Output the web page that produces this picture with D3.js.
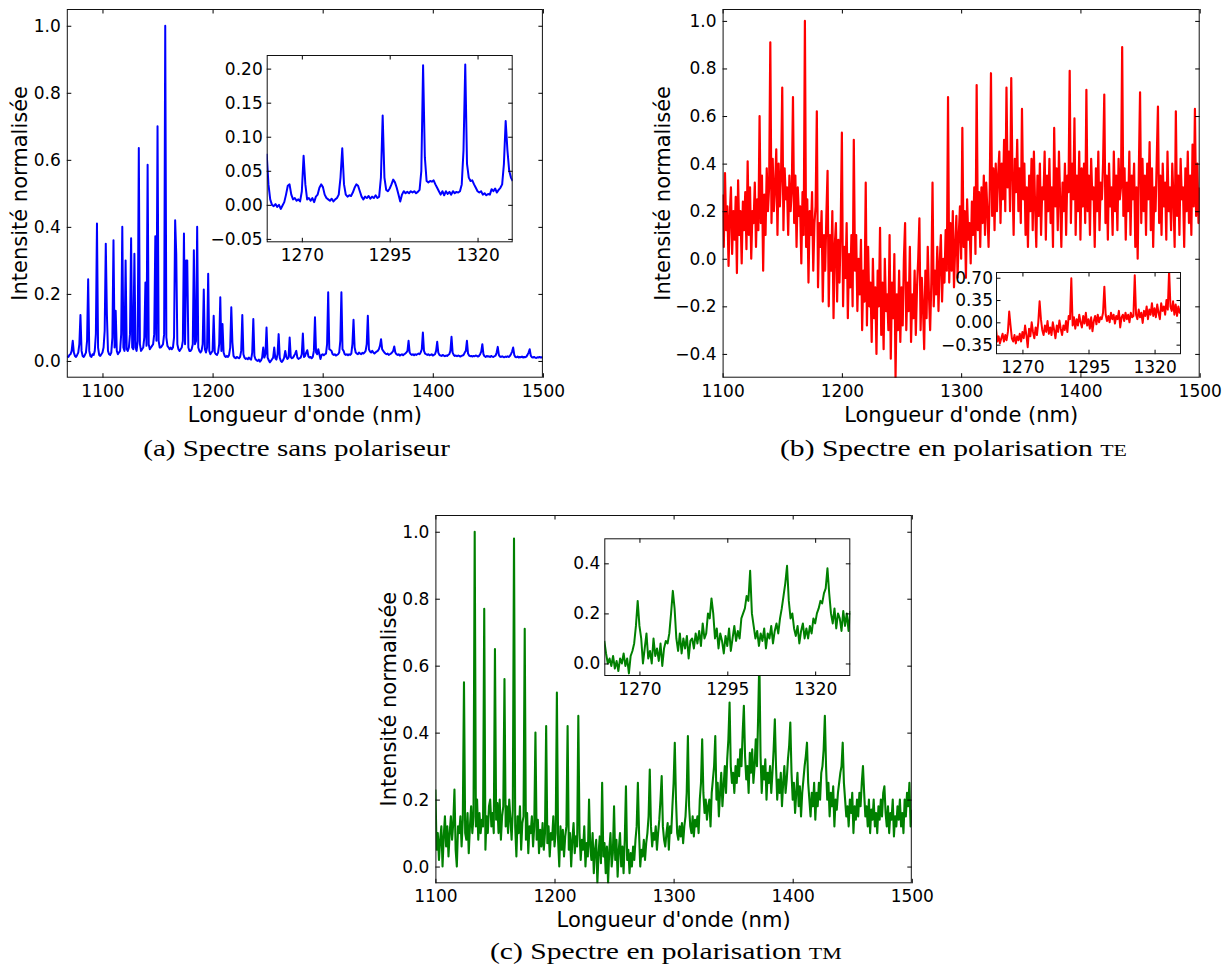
<!DOCTYPE html>
<html><head><meta charset="utf-8">
<script src="https://cdn.jsdelivr.net/npm/d3@7"></script>
<style>body{margin:0;background:#fff}svg{display:block}</style>
</head><body>
<svg id="chart" width="1229" height="970"></svg>
<script>
// ---------------- DATA ----------------
// (a) unpolarised spectrum, sampled every 1 nm from 1068 nm
const aWaveStart = 1068, aWaveStep = 1;
const aIntensity = [
0.015,0.012,0.018,0.02,0.03,0.06,0.025,0.015,0.012,0.018,
0.025,0.05,0.137,0.03,0.015,0.012,0.018,0.025,0.06,0.244,
0.03,0.015,0.012,0.02,0.018,0.03,0.08,0.41,0.04,0.018,
0.015,0.02,0.025,0.04,0.09,0.35,0.14,0.03,0.02,0.018,
0.025,0.07,0.36,0.04,0.15,0.03,0.02,0.025,0.03,0.08,
0.40,0.04,0.03,0.30,0.035,0.03,0.04,0.08,0.366,0.04,
0.035,0.32,0.04,0.03,0.06,0.635,0.05,0.03,0.035,0.04,
0.07,0.234,0.045,0.585,0.05,0.035,0.04,0.045,0.05,0.08,
0.372,0.06,0.70,0.06,0.04,0.04,0.045,0.05,0.08,1.0,
0.07,0.045,0.04,0.035,0.04,0.035,0.04,0.07,0.42,0.32,
0.05,0.035,0.03,0.035,0.04,0.06,0.38,0.05,0.30,0.30,
0.04,0.03,0.03,0.035,0.05,0.33,0.05,0.06,0.40,0.04,
0.03,0.025,0.03,0.05,0.213,0.035,0.025,0.04,0.26,0.03,
0.02,0.025,0.03,0.135,0.025,0.02,0.018,0.025,0.05,0.19,
0.03,0.11,0.025,0.015,0.012,0.015,0.012,0.018,0.04,0.16,
0.055,0.015,0.01,0.008,0.012,0.01,0.008,0.012,0.03,0.137,
0.02,0.01,0.006,0.008,0.005,0.01,0.006,0.004,0.025,0.125,
0.015,0.005,0.002,0.0,0.004,-0.002,0.002,0.01,0.04,0.01,
0.02,0.10,0.01,0.002,-0.004,0.0,0.005,0.01,0.04,0.008,
0.004,0.02,0.08,0.01,0.0,-0.003,0.002,0.01,0.03,0.012,
0.006,0.01,0.07,0.012,0.008,0.01,0.015,0.022,0.03,0.01,
0.006,0.008,0.01,0.02,0.082,0.012,0.015,0.025,0.032,0.014,
0.01,0.012,0.008,0.012,0.03,0.13,0.025,0.02,0.035,0.02,
0.006,0.018,0.02,0.017,0.02,0.022,0.05,0.205,0.035,0.033,
0.03,0.02,0.018,0.02,0.016,0.018,0.02,0.025,0.06,0.205,
0.035,0.03,0.02,0.018,0.02,0.017,0.02,0.018,0.022,0.05,
0.123,0.04,0.025,0.022,0.02,0.025,0.022,0.02,0.024,0.022,
0.025,0.03,0.05,0.135,0.035,0.028,0.025,0.03,0.025,0.022,
0.025,0.028,0.03,0.035,0.045,0.065,0.035,0.03,0.025,0.022,
0.02,0.022,0.018,0.02,0.022,0.025,0.03,0.043,0.025,0.02,
0.018,0.02,0.016,0.018,0.02,0.017,0.02,0.022,0.025,0.03,
0.06,0.025,0.02,0.018,0.02,0.017,0.02,0.018,0.02,0.022,
0.02,0.025,0.035,0.085,0.03,0.022,0.02,0.018,0.02,0.017,
0.018,0.02,0.016,0.018,0.02,0.03,0.057,0.025,0.018,0.016,
0.015,0.018,0.016,0.014,0.016,0.015,0.018,0.02,0.03,0.072,
0.025,0.018,0.015,0.016,0.014,0.016,0.015,0.013,0.015,0.016,
0.018,0.025,0.03,0.06,0.022,0.016,0.014,0.015,0.013,0.015,
0.014,0.016,0.015,0.013,0.015,0.02,0.028,0.05,0.02,0.014,
0.012,0.015,0.013,0.014,0.012,0.015,0.013,0.012,0.014,0.016,
0.025,0.042,0.018,0.013,0.012,0.014,0.012,0.011,0.013,0.012,
0.014,0.012,0.015,0.02,0.028,0.04,0.018,0.012,0.011,0.013,
0.01,0.012,0.011,0.013,0.01,0.012,0.011,0.013,0.018,0.025,
0.035,0.016,0.011,0.01,0.012,0.01,0.009,0.011,0.01,0.012,
0.01,0.011,0.01
];
// (a) inset, 1260-1330 nm every 0.5 nm
const aInsetWaveStart = 1260, aInsetWaveStep = 0.5;
const aInsetIntensity = [
0.075,0.03,0.008,0.0,-0.002,0.001,-0.003,0.0,-0.006,-0.001,
0.004,0.015,0.028,0.03,0.015,0.008,0.01,0.006,0.008,0.005,
0.02,0.072,0.03,0.008,0.01,0.006,0.01,0.004,0.012,0.015,
0.025,0.03,0.026,0.015,0.01,0.008,0.006,0.009,0.005,0.008,
0.01,0.015,0.04,0.083,0.03,0.015,0.012,0.014,0.013,0.018,
0.025,0.03,0.028,0.02,0.012,0.008,0.012,0.01,0.013,0.009,
0.012,0.01,0.014,0.01,0.012,0.04,0.131,0.04,0.022,0.02,
0.024,0.03,0.037,0.033,0.025,0.015,0.005,0.015,0.02,0.017,
0.019,0.017,0.02,0.018,0.02,0.017,0.019,0.022,0.05,0.205,
0.07,0.035,0.033,0.035,0.034,0.036,0.03,0.025,0.02,0.015,
0.02,0.014,0.02,0.016,0.019,0.015,0.02,0.017,0.019,0.018,
0.02,0.03,0.08,0.206,0.06,0.04,0.035,0.036,0.03,0.025,
0.02,0.018,0.02,0.015,0.017,0.014,0.016,0.015,0.023,0.02,
0.024,0.018,0.022,0.025,0.03,0.06,0.123,0.08,0.05,0.04,
0.035
];
// (b) TE polarisation, every 1 nm from 1100 nm
const teWaveStart = 1100, teWaveStep = 1;
const teIntensity = [
0.27,0.05,0.36,0.12,0.22,-0.03,0.18,0.30,0.02,0.2,
0.08,0.26,-0.06,0.33,0.1,0.2,-0.02,0.24,0.12,0.28,
0.04,0.41,0.1,0.3,0.0,0.2,0.15,0.32,0.05,0.25,
0.12,0.60,0.15,0.35,-0.05,0.27,0.1,0.38,0.2,0.3,
0.91,0.15,0.42,0.2,0.3,0.46,0.1,0.4,0.22,0.35,
0.72,0.12,0.38,0.25,0.3,0.1,0.35,0.2,0.28,0.68,
0.15,0.35,0.05,0.3,0.18,0.22,-0.02,0.28,0.1,1.0,
0.05,0.25,-0.1,0.2,0.1,0.28,-0.05,0.15,0.22,0.62,
-0.12,0.15,0.05,0.2,-0.18,0.1,-0.05,0.18,0.37,-0.2,
0.1,-0.05,0.2,-0.25,0.05,0.15,-0.18,0.08,-0.1,0.12,
0.53,-0.2,0.05,-0.08,0.15,-0.25,0.02,-0.12,0.1,-0.2,
0.50,-0.05,0.1,-0.22,0.0,-0.15,0.08,-0.3,-0.05,-0.18,
0.32,-0.28,0.05,-0.2,-0.1,-0.35,0.0,-0.25,-0.12,-0.4,
-0.05,-0.2,0.13,-0.32,-0.1,-0.38,0.0,-0.22,-0.15,-0.3,
0.10,-0.42,-0.1,-0.25,0.02,-0.5,-0.15,-0.3,-0.05,-0.35,
-0.12,-0.28,0.0,0.15,-0.3,-0.1,-0.22,0.05,-0.35,-0.15,
-0.25,-0.05,-0.32,-0.12,0.0,0.17,-0.3,-0.08,-0.2,-0.38,
-0.05,-0.25,0.05,-0.15,-0.3,-0.1,0.32,-0.2,-0.05,-0.15,
0.05,-0.22,-0.02,0.1,-0.18,0.0,-0.1,0.12,-0.05,0.68,
-0.1,0.15,-0.05,0.2,-0.12,0.05,0.18,-0.08,0.1,0.22,
0.0,0.55,0.05,0.2,-0.08,0.25,0.08,0.15,-0.02,0.24,
0.1,0.3,0.02,0.73,0.12,0.28,0.05,0.3,0.15,0.35,
0.1,0.32,0.2,0.05,0.3,0.78,0.18,0.38,0.12,0.4,
0.2,0.35,0.45,0.15,0.4,0.25,0.5,0.2,0.72,0.3,
0.45,0.2,0.76,0.35,0.1,0.42,0.28,0.5,0.2,0.38,
0.15,0.63,0.25,0.4,0.1,0.3,0.05,0.35,0.2,0.42,
0.12,0.45,0.22,0.05,0.35,0.18,0.4,0.1,0.3,0.25,
0.45,0.08,0.35,0.2,0.42,0.15,0.3,0.05,0.55,0.22,
0.38,0.12,0.45,0.25,0.05,0.32,0.2,0.4,0.1,0.35,
0.28,0.79,0.15,0.4,0.25,0.59,0.1,0.35,0.2,0.45,
0.08,0.38,0.22,0.4,0.15,0.71,0.2,0.35,0.1,0.42,
0.25,0.3,0.05,0.38,0.2,0.45,0.12,0.32,0.25,0.4,
0.69,0.15,0.35,0.08,0.4,0.22,0.3,0.1,0.45,0.2,
0.35,0.12,0.42,0.25,0.3,0.89,0.18,0.38,0.08,0.32,
0.2,0.45,0.1,0.35,0.25,0.4,0.05,0.3,0.0,0.38,
0.70,0.15,0.42,0.2,0.35,0.1,0.4,0.25,0.49,0.12,
0.38,0.05,0.3,0.2,0.42,0.64,0.15,0.35,0.1,0.4,
0.22,0.32,0.08,0.45,0.2,0.3,0.12,0.4,0.25,0.05,
0.62,0.18,0.35,0.1,0.42,0.25,0.3,0.05,0.38,0.2,
0.45,0.15,0.35,0.1,0.48,0.22,0.63,0.18,0.4,0.15,
0.3
];
// (b) inset, 1260-1330 nm every 0.5 nm
const teInsetWaveStart = 1260, teInsetWaveStep = 0.5;
const teInsetIntensity = [
-0.1,-0.3,-0.22,-0.33,-0.25,-0.18,-0.3,-0.2,-0.28,-0.15,
0.17,-0.05,-0.25,-0.3,-0.2,-0.33,-0.22,-0.28,-0.18,-0.3,
-0.15,-0.25,-0.05,-0.2,-0.39,-0.1,-0.22,0.0,-0.15,-0.25,
-0.08,-0.2,0.0,0.33,0.05,-0.12,-0.2,-0.05,-0.15,0.02,
-0.18,-0.08,-0.2,0.0,-0.12,-0.25,-0.05,-0.15,0.03,-0.1,
-0.2,-0.05,-0.12,0.02,-0.15,0.1,0.05,0.69,-0.05,0.08,
-0.1,0.05,-0.05,0.12,0.0,-0.08,0.1,-0.02,0.15,-0.05,
0.05,-0.1,0.08,-0.14,0.02,0.1,-0.03,0.12,0.0,0.08,
0.05,0.15,0.56,0.12,0.02,0.1,0.0,0.15,0.05,0.12,
-0.02,0.1,0.05,0.18,-0.08,0.08,0.12,0.02,0.15,0.05,
0.12,0.0,0.15,0.08,0.1,0.74,0.12,0.05,0.2,0.08,
0.15,-0.01,0.18,0.1,0.25,0.05,0.2,0.12,0.3,0.1,
0.22,0.08,0.28,0.15,0.05,0.3,0.18,0.25,0.12,0.35,
0.2,0.82,0.25,0.18,0.33,0.12,0.28,0.1,0.25,0.15,
0.22
];
// (c) TM polarisation, every 1 nm from 1100 nm
const tmWaveStart = 1100, tmWaveStep = 1;
const tmIntensity = [
0.23,0.05,0.1,0.02,0.08,0.12,0.0,0.09,0.15,0.06,
0.12,0.03,0.1,0.15,0.08,0.13,0.23,0.05,0.0,0.12,
0.1,0.15,0.06,0.14,0.55,0.1,0.08,0.16,0.04,0.12,
0.18,0.1,0.15,1.0,0.12,0.2,0.08,0.16,0.1,0.14,
0.12,0.77,0.05,0.15,0.1,0.18,0.2,0.12,0.16,0.1,
0.65,0.14,0.19,0.1,0.2,0.08,0.15,0.18,0.56,0.12,
0.18,0.1,0.2,0.14,0.08,0.17,0.98,0.12,0.03,0.15,
0.1,0.18,0.05,0.13,0.15,0.71,0.08,0.16,0.04,0.12,
0.1,0.15,0.06,0.12,0.40,0.08,0.14,0.04,0.11,0.06,
0.13,0.05,0.1,0.42,0.07,0.12,0.03,0.1,0.08,0.15,
0.06,0.1,0.52,0.08,0.0,0.12,0.05,0.11,0.03,0.09,
0.12,0.42,0.05,0.1,0.0,0.08,0.13,0.04,0.09,0.06,
0.45,0.1,0.02,0.08,0.05,0.12,0.0,0.07,0.03,0.2,
0.06,0.02,0.1,-0.02,0.05,0.08,-0.05,0.04,0.09,0.01,
0.25,0.03,0.07,-0.02,0.06,-0.05,0.05,0.1,0.0,0.04,
0.18,0.02,0.08,-0.03,0.05,0.1,0.0,0.06,-0.02,0.08,
0.24,0.02,0.05,-0.02,0.04,0.0,0.06,0.02,0.08,0.12,
0.25,0.1,0.0,0.05,0.03,0.08,0.02,0.07,0.1,0.15,
0.29,0.12,0.06,0.1,0.08,0.12,0.05,0.1,0.14,0.2,
0.27,0.12,0.08,0.06,0.1,0.13,0.05,0.12,0.1,0.18,
0.25,0.37,0.2,0.1,0.08,0.12,0.09,0.13,0.07,0.12,
0.15,0.22,0.39,0.18,0.12,0.1,0.15,0.09,0.14,0.12,
0.15,0.1,0.2,0.25,0.38,0.22,0.16,0.2,0.14,0.18,
0.2,0.12,0.22,0.26,0.3,0.39,0.2,0.25,0.15,0.22,
0.28,0.18,0.24,0.3,0.22,0.32,0.38,0.49,0.3,0.25,
0.28,0.22,0.3,0.25,0.32,0.27,0.35,0.3,0.4,0.48,
0.33,0.26,0.3,0.22,0.34,0.28,0.35,0.25,0.3,0.38,
0.3,0.45,0.62,0.33,0.22,0.3,0.26,0.32,0.2,0.28,
0.25,0.3,0.22,0.28,0.35,0.44,0.3,0.2,0.26,0.22,
0.28,0.18,0.25,0.3,0.22,0.26,0.32,0.36,0.43,0.28,
0.2,0.25,0.16,0.22,0.28,0.18,0.24,0.15,0.22,0.26,
0.3,0.33,0.37,0.25,0.2,0.15,0.22,0.18,0.25,0.14,
0.22,0.18,0.25,0.2,0.28,0.3,0.35,0.45,0.3,0.2,
0.25,0.15,0.22,0.18,0.24,0.12,0.2,0.17,0.22,0.25,
0.28,0.3,0.37,0.25,0.2,0.15,0.18,0.12,0.2,0.16,
0.22,0.1,0.18,0.14,0.2,0.15,0.22,0.18,0.25,0.3,
0.22,0.15,0.18,0.12,0.2,0.1,0.17,0.14,0.2,0.12,
0.16,0.1,0.18,0.14,0.2,0.15,0.22,0.24,0.16,0.12,
0.18,0.1,0.16,0.14,0.2,0.09,0.15,0.12,0.18,0.14,
0.2,0.12,0.16,0.1,0.2,0.15,0.22,0.18,0.25,0.12,
0.17
];
// (c) inset, 1260-1330 nm every 0.5 nm
const tmInsetWaveStart = 1260, tmInsetWaveStep = 0.5;
const tmInsetIntensity = [
0.09,0.04,0.0,0.02,-0.01,0.03,-0.02,0.01,-0.03,0.02,
0.0,0.04,-0.01,0.02,-0.04,0.03,0.05,0.08,0.15,0.25,
0.15,0.1,0.0,0.06,0.12,0.02,0.05,0.0,0.1,0.03,
0.06,0.01,0.08,-0.01,0.06,0.09,0.08,0.12,0.2,0.29,
0.22,0.1,0.05,0.12,0.04,0.1,0.06,0.11,0.02,0.09,
0.1,0.06,0.12,0.08,0.13,0.07,0.16,0.1,0.12,0.2,
0.18,0.26,0.2,0.1,0.14,0.06,0.12,0.09,0.04,0.11,
0.07,0.14,0.05,0.1,0.15,0.09,0.13,0.1,0.18,0.2,
0.22,0.27,0.25,0.37,0.2,0.15,0.1,0.13,0.07,0.12,
0.09,0.14,0.06,0.12,0.1,0.15,0.08,0.13,0.16,0.12,
0.18,0.22,0.27,0.32,0.39,0.25,0.18,0.2,0.14,0.11,
0.15,0.08,0.13,0.16,0.1,0.14,0.1,0.15,0.12,0.18,
0.16,0.2,0.22,0.25,0.24,0.28,0.3,0.38,0.28,0.2,
0.16,0.22,0.14,0.2,0.18,0.13,0.21,0.15,0.2,0.13,
0.21
];
// ticks and texts
const mainXTicks = [1100, 1200, 1300, 1400, 1500];
const mainYTicks = [0, 0.2, 0.4, 0.6, 0.8, 1.0];
const teYTicks = [-0.4, -0.2, 0, 0.2, 0.4, 0.6, 0.8, 1.0];
const insetXTicks = [1270, 1295, 1320];
const aInsetYTicks = [-0.05, 0, 0.05, 0.10, 0.15, 0.20];
const teInsetYTicks = [-0.35, 0, 0.35, 0.70];
const tmInsetYTicks = [0, 0.2, 0.4];
const xTitle = "Longueur d'onde (nm)";
const yTitle = "Intensité normalisée";
const captionTexts = ["(a) Spectre sans polariseur", "(b) Spectre en polarisation ", "(c) Spectre en polarisation "];
const captionSmallCaps = ["", "TE", "TM"];

// ---------------- DRAWING ----------------
const svg = d3.select("#chart");
const SANS = "'DejaVu Sans', sans-serif";
const SERIF = "'Liberation Serif', 'DejaVu Serif', serif";

function drawAxes(cfg) {
  const g = svg.append("g");
  const x = d3.scaleLinear().domain(cfg.xDomain).range([cfg.left, cfg.right]);
  const y = d3.scaleLinear().domain(cfg.yDomain).range([cfg.bottom, cfg.top]);
  const w = cfg.right - cfg.left, h = cfg.bottom - cfg.top;
  if (cfg.inset) {
    g.append("rect").attr("x", cfg.left).attr("y", cfg.top).attr("width", w).attr("height", h).attr("fill", "#fff");
  }
  const clipId = "clip-" + cfg.id;
  g.append("clipPath").attr("id", clipId).append("rect")
    .attr("x", cfg.left).attr("y", cfg.top).attr("width", w).attr("height", h);
  const line = d3.line()
    .x((d, i) => x(cfg.start + i * cfg.step))
    .y(d => y(d));
  g.append("path").datum(cfg.values)
    .attr("clip-path", `url(#${clipId})`)
    .attr("fill", "none").attr("stroke", cfg.color)
    .attr("stroke-width", cfg.lw || 2).attr("stroke-linejoin", "round")
    .attr("d", line);

  const tl = 4.5;
  const addAxis = (gen, tr) => {
    const a = g.append("g").attr("transform", tr).call(gen);
    a.select(".domain").remove();
    a.attr("font-family", SANS).attr("font-size", 17);
    a.selectAll(".tick line").attr("stroke", "#000").attr("stroke-width", 1);
    a.selectAll(".tick text").attr("fill", "#000");
    return a;
  };
  addAxis(d3.axisBottom(x).tickValues(cfg.xTicks).tickSize(-tl).tickPadding(cfg.xPad).tickFormat(d3.format("d")), `translate(0,${cfg.bottom})`);
  addAxis(d3.axisTop(x).tickValues(cfg.xTicks).tickSize(-tl).tickFormat(""), `translate(0,${cfg.top})`);
  addAxis(d3.axisLeft(y).tickValues(cfg.yTicks).tickSize(-tl).tickPadding(cfg.yPad).tickFormat(d3.format(cfg.yFmt)), `translate(${cfg.left},0)`);
  addAxis(d3.axisRight(y).tickValues(cfg.yTicks).tickSize(-tl).tickFormat(""), `translate(${cfg.right},0)`);

  g.append("rect").attr("x", cfg.left + 0.5).attr("y", cfg.top + 0.5)
    .attr("width", w - 1).attr("height", h - 1)
    .attr("fill", "none").attr("stroke", "#111").attr("stroke-width", 1);

  if (cfg.titles) {
    svg.append("text").attr("x", (cfg.left + cfg.right) / 2).attr("y", cfg.bottom + 44)
      .attr("text-anchor", "middle").attr("font-family", SANS).attr("font-size", 21)
      .text(xTitle);
    svg.append("text")
      .attr("transform", `translate(${cfg.left - cfg.yTitleOff},${(cfg.top + cfg.bottom) / 2}) rotate(-90)`)
      .attr("text-anchor", "middle").attr("font-family", SANS).attr("font-size", 21)
      .text(yTitle);
  }
}

// Panel (a)
drawAxes({id: "a", left: 66.8, right: 542.9, top: 9, bottom: 377.7,
  xDomain: [1067.6, 1500], yDomain: [-0.05, 1.05],
  start: aWaveStart, step: aWaveStep, values: aIntensity, color: "#0000ff",
  xTicks: mainXTicks, yTicks: mainYTicks, yFmt: ".1f", xPad: 7.5, yPad: 6,
  titles: true, yTitleOff: 40});
drawAxes({id: "ai", inset: true, left: 266.7, right: 512.7, top: 55, bottom: 242.3,
  xDomain: [1260, 1330], yDomain: [-0.055, 0.22],
  start: aInsetWaveStart, step: aInsetWaveStep, values: aInsetIntensity, color: "#0000ff",
  xTicks: insetXTicks, yTicks: aInsetYTicks, yFmt: ".2f", xPad: 7, yPad: 4});

// Panel (b)
drawAxes({id: "b", left: 722.6, right: 1199.7, top: 9, bottom: 377.7,
  xDomain: [1100, 1500], yDomain: [-0.5, 1.05],
  start: teWaveStart, step: teWaveStep, values: teIntensity, color: "#ff0000", lw: 2.2,
  xTicks: mainXTicks, yTicks: teYTicks, yFmt: ".1f", xPad: 7.5, yPad: 6,
  titles: true, yTitleOff: 52.6});
drawAxes({id: "bi", inset: true, left: 996, right: 1181, top: 272, bottom: 354.2,
  xDomain: [1260, 1330], yDomain: [-0.5, 0.79],
  start: teInsetWaveStart, step: teInsetWaveStep, values: teInsetIntensity, color: "#ff0000",
  xTicks: insetXTicks, yTicks: teInsetYTicks, yFmt: ".2f", xPad: 7, yPad: 3});

// Panel (c)
drawAxes({id: "c", left: 435.4, right: 911.8, top: 515, bottom: 883.3,
  xDomain: [1100, 1500], yDomain: [-0.05, 1.05],
  start: tmWaveStart, step: tmWaveStep, values: tmIntensity, color: "#008000", lw: 2.1,
  xTicks: mainXTicks, yTicks: mainYTicks, yFmt: ".1f", xPad: 6.5, yPad: 6,
  titles: true, yTitleOff: 39.7});
drawAxes({id: "ci", inset: true, left: 604.3, right: 850.3, top: 538.3, bottom: 676,
  xDomain: [1260, 1330], yDomain: [-0.05, 0.5],
  start: tmInsetWaveStart, step: tmInsetWaveStep, values: tmInsetIntensity, color: "#008000",
  xTicks: insetXTicks, yTicks: tmInsetYTicks, yFmt: ".1f", xPad: 7, yPad: 4});

// Captions
const capPos = [{x: 143.3, w: 306.7, y: 456}, {x: 780, w: 347, y: 456}, {x: 490, w: 351.7, y: 959}];
captionTexts.forEach((t, i) => {
  const txt = svg.append("text").attr("x", capPos[i].x).attr("y", capPos[i].y)
    .attr("font-family", SERIF).attr("font-size", 23).attr("fill", "#000")
    .attr("textLength", capPos[i].w).attr("lengthAdjust", "spacingAndGlyphs");
  txt.append("tspan").text(t);
  if (captionSmallCaps[i]) txt.append("tspan").attr("font-size", 17).text(captionSmallCaps[i]);
});
</script>
</body></html>
